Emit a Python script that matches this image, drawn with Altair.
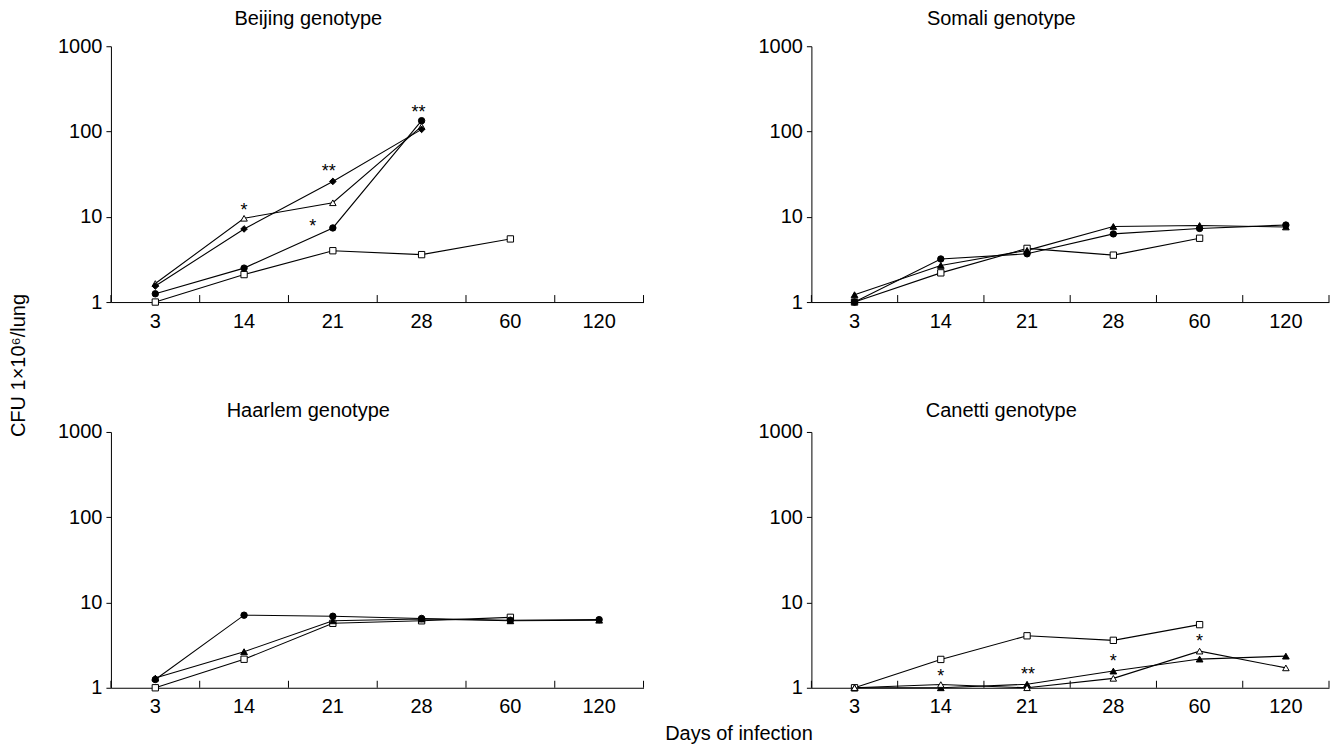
import altair as alt
import pandas as pd

FONT = "Liberation Sans"

days = ["3", "14", "21", "28", "60", "120"]

series_keys = ["open_square", "filled_circle", "open_triangle", "filled_diamond", "filled_triangle"]
series_shapes = ["square", "circle", "triangle-up", "diamond", "triangle-up"]
series_fills = ["white", "black", "white", "black", "black"]
series_sizes = [40, 45, 55, 55, 55]

# Beijing genotype
beijing_open_square = [1.0, 2.1, 4.0, 3.6, 5.5, None]
beijing_filled_circle = [1.25, 2.5, 7.4, 134, None, None]
beijing_open_triangle = [1.65, 9.6, 14.6, 115, None, None]
beijing_filled_diamond = [1.54, 7.2, 26, 106, None, None]
beijing_star_days = ["14", "21", "21", "28"]
beijing_star_values = [13.1, 37, 8.4, 183]
beijing_star_labels = ["*", "**", "*", "**"]
beijing_star_dx = [0, -4, -20, -3]

# Somali genotype
somali_open_square = [1.0, 2.2, 4.26, 3.55, 5.6, None]
somali_filled_circle = [1.0, 3.2, 3.68, 6.3, 7.3, 8.0]
somali_filled_triangle = [1.22, 2.69, 4.04, 7.7, 7.9, 7.6]

# Haarlem genotype
haarlem_open_square = [1.0, 2.16, 5.7, 6.1, 6.7, None]
haarlem_filled_circle = [1.25, 7.1, 6.9, 6.5, 6.2, 6.3]
haarlem_filled_triangle = [1.3, 2.65, 6.1, 6.4, 6.1, 6.2]

# Canetti genotype
canetti_open_square = [1.0, 2.15, 4.07, 3.6, 5.5, None]
canetti_filled_triangle = [1.0, 1.0, 1.1, 1.57, 2.17, 2.35]
canetti_open_triangle = [1.0, 1.09, 1.0, 1.29, 2.69, 1.71]
canetti_star_days = ["14", "21", "28", "60"]
canetti_star_values = [1.47, 1.57, 2.21, 3.85]
canetti_star_labels = ["*", "**", "*", "*"]
canetti_star_dx = [0, 1, 0, 0]

W1, W2, H = 533, 518, 256


def panel(title, series, stars, width, title_offset, ytitle=False, xtitle=False):
    rows = []
    for key, vals in series:
        for i, (d, v) in enumerate(zip(days, vals)):
            if v is not None:
                rows.append({"day": d, "cfu": v, "series": key, "idx": i})
    df = pd.DataFrame(rows)

    xscale = alt.Scale(type="band", domain=days, paddingInner=0, paddingOuter=0)
    yscale = alt.Scale(type="log", domain=[1, 1000])

    xaxis_kw = dict(labelAngle=0, ticks=False, labelPadding=9, grid=False)
    if xtitle:
        xaxis_kw.update(title="Days of infection", titleX=-73, titleY=46,
                        titleAlign="center", titleBaseline="middle")
    else:
        xaxis_kw.update(title="")
    yaxis_kw = dict(values=[1, 10, 100, 1000], format="d", tickSize=5,
                    labelPadding=4, grid=False)
    if ytitle:
        yaxis_kw.update(title="CFU 1×10⁶/lung", titleX=-92, titleY=319,
                        titleAngle=270, titleAlign="center", titleBaseline="middle")
    else:
        yaxis_kw.update(title="")

    x = alt.X("day:N", scale=xscale, sort=days, axis=alt.Axis(**xaxis_kw))
    y = alt.Y("cfu:Q", scale=yscale, axis=alt.Axis(**yaxis_kw))

    lines = alt.Chart(df).mark_line(color="black", strokeWidth=1.1).encode(
        x=x, y=y, detail="series:N", order="idx:Q")

    points = alt.Chart(df).mark_point(filled=True, stroke="black", strokeWidth=1, opacity=1).encode(
        x=x, y=y,
        shape=alt.Shape("series:N", scale=alt.Scale(domain=series_keys, range=series_shapes)),
        fill=alt.Fill("series:N", scale=alt.Scale(domain=series_keys, range=series_fills)),
        size=alt.Size("series:N", scale=alt.Scale(domain=series_keys, range=series_sizes)),
    )

    tick_df = pd.DataFrame({"day": days})
    ticks = alt.Chart(tick_df).mark_rule(color="black", strokeWidth=1).encode(
        x=alt.X("day:N", scale=xscale, sort=days, bandPosition=0),
        y=alt.value(H), y2=alt.value(H - 7))
    end_tick = alt.Chart(pd.DataFrame({"day": [days[-1]]})).mark_rule(color="black", strokeWidth=1).encode(
        x=alt.X("day:N", scale=xscale, sort=days, bandPosition=1),
        y=alt.value(H), y2=alt.value(H - 7))

    layers = [lines, ticks, end_tick, points]

    if stars is not None:
        sd, sv, sl, sdx = stars
        sdf = pd.DataFrame({"day": sd, "cfu": sv, "label": sl, "dx": sdx})
        for dxv in sorted(set(sdx)):
            sub = sdf[sdf["dx"] == dxv]
            layers.append(
                alt.Chart(sub).mark_text(font=FONT, fontSize=18, baseline="alphabetic",
                                         dy=9, dx=dxv, color="black").encode(
                    x=alt.X("day:N", scale=xscale, sort=days),
                    y=alt.Y("cfu:Q", scale=yscale),
                    text="label:N"))

    return alt.layer(*layers).properties(
        width=width, height=H,
        title=alt.TitleParams(title, font=FONT, fontSize=20, fontWeight="normal",
                              color="black", anchor="middle", dx=-69, offset=title_offset),
    )


beijing = panel("Beijing genotype",
                [("open_square", beijing_open_square), ("filled_circle", beijing_filled_circle),
                 ("open_triangle", beijing_open_triangle), ("filled_diamond", beijing_filled_diamond)],
                (beijing_star_days, beijing_star_values, beijing_star_labels, beijing_star_dx),
                W1, 7, ytitle=True)
somali = panel("Somali genotype",
               [("open_square", somali_open_square), ("filled_circle", somali_filled_circle),
                ("filled_triangle", somali_filled_triangle)],
               None, W2, 7)
haarlem = panel("Haarlem genotype",
                [("open_square", haarlem_open_square), ("filled_circle", haarlem_filled_circle),
                 ("filled_triangle", haarlem_filled_triangle)],
                None, W1, 1)
canetti = panel("Canetti genotype",
                [("open_square", canetti_open_square), ("filled_triangle", canetti_filled_triangle),
                 ("open_triangle", canetti_open_triangle)],
                (canetti_star_days, canetti_star_values, canetti_star_labels, canetti_star_dx),
                W2, 1, xtitle=True)

chart = alt.concat(beijing, somali, haarlem, canetti, columns=2,
                   spacing={"row": 130, "column": 168}, bounds="flush").properties(
    padding={"left": 0, "top": 0, "right": 5, "bottom": 0},
    background="white",
).configure_view(stroke="transparent").configure_axis(
    domainColor="black", domainWidth=1, tickColor="black", tickWidth=1,
    labelColor="black", labelFont=FONT, labelFontSize=20,
    titleColor="black", titleFont=FONT, titleFontSize=20, titleFontWeight="normal",
).configure_legend(disable=True)

chart.save("out.html", embed_options={"renderer": "svg", "actions": False})
